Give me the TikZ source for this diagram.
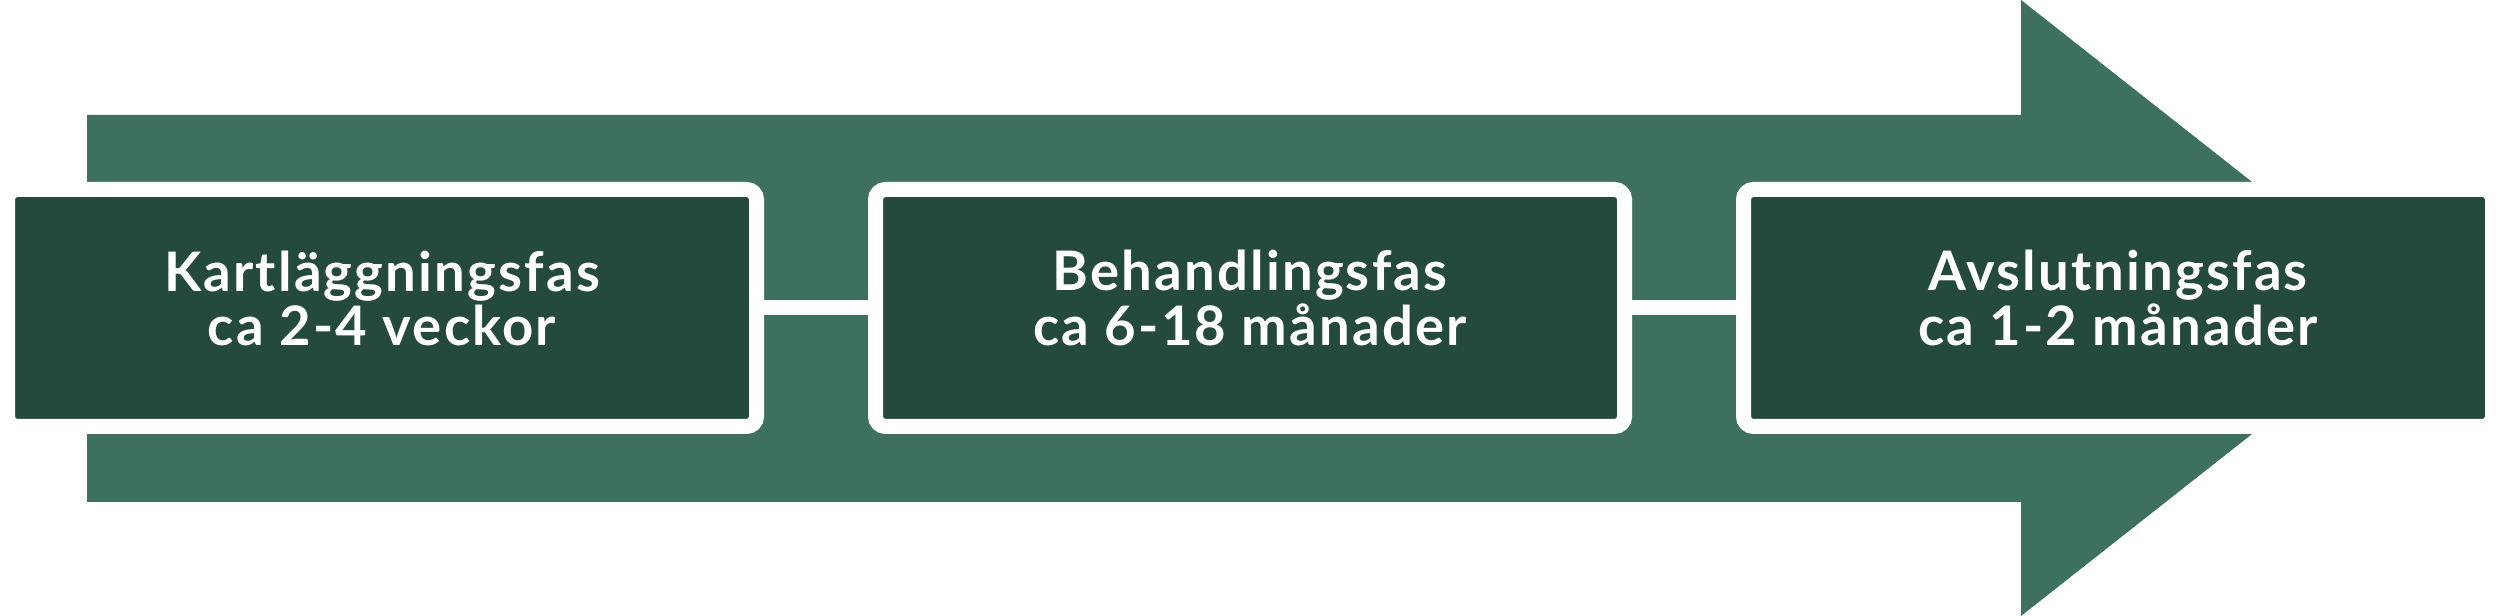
\documentclass[tikz,border=0pt]{standalone}
\usepackage{fontspec}
\setmainfont{Lato}[LetterSpace=4]
\usepackage{xcolor}
\usetikzlibrary{positioning}
\definecolor{arrowgreen}{HTML}{3D715E}
\definecolor{phasegreen}{HTML}{244A3B}
\tikzset{
	phase/.style={
			draw=white, fill=phasegreen, line width=0.15cm, rounded corners=0.1cm,
			minimum width=7.49cm, minimum height=2.37cm, inner sep=0pt,
			text=white, align=center, text depth=0.2cm,
			font=\fontsize{15.5pt}{14pt}\selectfont\bfseries
		},
	link/.style={draw=white, line width=0.15cm}
}

\begin{document}
\begin{tikzpicture}
		\useasboundingbox (0,0) rectangle (25,6.16);

		% Big arrow behind the phases
		\fill[arrowgreen] (0.87,5.01) -- (20.21,5.01) -- (20.21,6.16) -- (24.12,3.08)
			-- (20.21,0) -- (20.21,1.14) -- (0.87,1.14) -- cycle;

		% Phases
		\node[phase] (kartl) at (3.82,3.08) {Kartläggningsfas\\ca 2-4 veckor};
		\node[phase, right=1.04cm of kartl] (behand) {Behandlingsfas\\ca 6-18 månader};
		\node[phase, right=1.04cm of behand] (avslut) {Avslutningsfas\\ca 1-2 månader};

		% Links between phases
		\draw[link] (kartl.east) -- (behand.west);
		\draw[link] (behand.east) -- (avslut.west);
	\end{tikzpicture}
\end{document}
